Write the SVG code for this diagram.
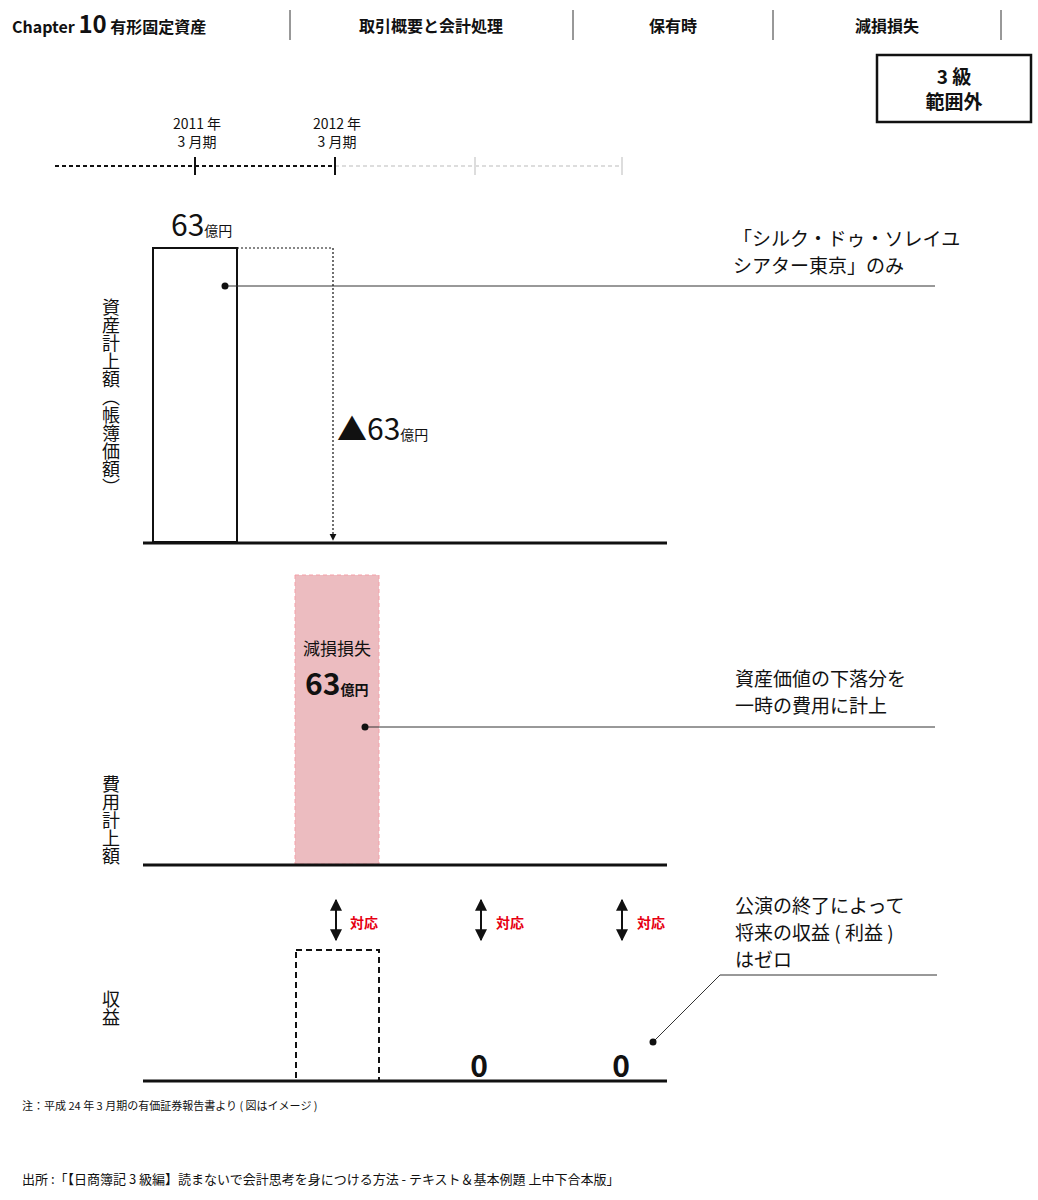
<svg xmlns="http://www.w3.org/2000/svg" width="1038" height="1200" viewBox="0 0 1038 1200">
<defs>
<style>
text{font-family:"Noto Sans CJK JP","Noto Sans",sans-serif;fill:#111}
.b{font-weight:bold}
.ax{stroke:#111;stroke-width:3}
.ld{stroke:#333;stroke-width:1;fill:none}
.red{fill:#e60012;font-weight:bold;font-size:14px}
.co{font-size:19px}
.vt{font-size:18px;writing-mode:vertical-rl}
</style>
<marker id="ah" viewBox="0 0 10 10" refX="9" refY="5" markerWidth="6" markerHeight="6" orient="auto-start-reverse"><path d="M0,0L10,5L0,10z" fill="#111"/></marker>
</defs>
<rect width="1038" height="1200" fill="#fff"/>
<g id="header">
<text x="12" y="33" font-size="16" class="b">Chapter <tspan font-size="24">10</tspan> <tspan font-size="16">有形固定資産</tspan></text>
<line x1="290" y1="10" x2="290" y2="40" stroke="#333"/>
<line x1="573" y1="10" x2="573" y2="40" stroke="#333"/>
<line x1="773" y1="10" x2="773" y2="40" stroke="#333"/>
<line x1="1001" y1="10" x2="1001" y2="40" stroke="#333"/>
<text x="431" y="32" font-size="16" class="b" text-anchor="middle">取引概要と会計処理</text>
<text x="673" y="32" font-size="16" class="b" text-anchor="middle">保有時</text>
<text x="887" y="32" font-size="16" class="b" text-anchor="middle">減損損失</text>
</g>
<g id="grade">
<rect x="877" y="55" width="154" height="67" fill="#fff" stroke="#111" stroke-width="2.5"/>
<text x="954" y="84" font-size="19" class="b" text-anchor="middle">3 級</text>
<text x="954" y="109" font-size="19" class="b" text-anchor="middle">範囲外</text>
</g>
<g id="timeline">
<text x="197" y="129" font-size="14" text-anchor="middle">2011 年</text>
<text x="197" y="147" font-size="14" text-anchor="middle">3 月期</text>
<text x="337" y="129" font-size="14" text-anchor="middle">2012 年</text>
<text x="337" y="147" font-size="14" text-anchor="middle">3 月期</text>
<line x1="55" y1="166" x2="335" y2="166" stroke="#111" stroke-width="2" stroke-dasharray="4,3"/>
<line x1="335" y1="166" x2="623" y2="166" stroke="#ddd" stroke-width="2" stroke-dasharray="4,3"/>
<line x1="195" y1="157" x2="195" y2="175" stroke="#111" stroke-width="2"/>
<line x1="335" y1="157" x2="335" y2="175" stroke="#111" stroke-width="2"/>
<line x1="475" y1="157" x2="475" y2="175" stroke="#ddd" stroke-width="2"/>
<line x1="622" y1="157" x2="622" y2="175" stroke="#ddd" stroke-width="2"/>
</g>
<g id="asset">
<text x="111" y="298" class="vt">資産計上額（帳簿価額）</text>
<rect x="153" y="248" width="84" height="294" fill="#fff" stroke="#111" stroke-width="2"/>
<text x="171" y="236" font-size="30">63<tspan font-size="14">億円</tspan></text>
<line class="ax" x1="143" y1="543" x2="667" y2="543"/>
<text x="337" y="440" font-size="30">▲63<tspan font-size="14">億円</tspan></text>
</g>
<g id="expense">
<text x="111" y="775" class="vt">費用計上額</text>
<rect x="295" y="575" width="84" height="289" fill="#ecbcc0" stroke="#f4a0a8" stroke-dasharray="4,3"/>
<text x="337" y="655" font-size="17" text-anchor="middle">減損損失</text>
<text x="305" y="695" font-size="30" class="b">63<tspan font-size="14">億円</tspan></text>
<line class="ax" x1="143" y1="865" x2="667" y2="865"/>
</g>
<g id="revenue">
<text x="111" y="990" class="vt">収益</text>
<rect x="296" y="950" width="83" height="131" fill="none" stroke="#111" stroke-width="2" stroke-dasharray="6,4"/>
<text x="479" y="1077" font-size="30" class="b" text-anchor="middle">0</text>
<text x="621" y="1077" font-size="30" class="b" text-anchor="middle">0</text>
<line class="ax" x1="143" y1="1081" x2="667" y2="1081"/>
</g>
<g id="callouts">
<text x="733" y="246" class="co">「シルク・ドゥ・ソレイユ</text>
<text x="733" y="273" class="co">シアター東京」のみ</text>
<text x="735" y="686" class="co">資産価値の下落分を</text>
<text x="735" y="713" class="co">一時の費用に計上</text>
<text x="735" y="913" class="co">公演の終了によって</text>
<text x="735" y="940" class="co">将来の収益 ( 利益 )</text>
<text x="735" y="967" class="co">はゼロ</text>
</g>
<g id="connectors">
<line class="ld" x1="225" y1="286" x2="935" y2="286"/>
<circle cx="225" cy="286" r="3.5" fill="#111"/>
<line class="ld" x1="365" y1="727" x2="935" y2="727"/>
<circle cx="365" cy="727" r="3.5" fill="#111"/>
<polyline class="ld" points="653,1042 720,975 937,975"/>
<circle cx="653" cy="1042" r="3.5" fill="#111"/>
<polyline points="237,248 333,248 333,540" fill="none" stroke="#111" stroke-width="1.2" stroke-dasharray="2,2" marker-end="url(#ah)"/>
<line x1="336" y1="900" x2="336" y2="940" stroke="#111" stroke-width="2" marker-start="url(#ah)" marker-end="url(#ah)"/>
<line x1="481" y1="900" x2="481" y2="940" stroke="#111" stroke-width="2" marker-start="url(#ah)" marker-end="url(#ah)"/>
<line x1="622" y1="900" x2="622" y2="940" stroke="#111" stroke-width="2" marker-start="url(#ah)" marker-end="url(#ah)"/>
<text x="350" y="928" class="red">対応</text>
<text x="496" y="928" class="red">対応</text>
<text x="637" y="928" class="red">対応</text>
</g>
<g id="notes">
<text x="22" y="1110" font-size="11">注：平成 24 年 3 月期の有価証券報告書より ( 図はイメージ )</text>
<text x="22" y="1184" font-size="13">出所 :「【日商簿記 3 級編】読まないで会計思考を身につける方法 - テキスト＆基本例題 上中下合本版」</text>
</g>
</svg>
